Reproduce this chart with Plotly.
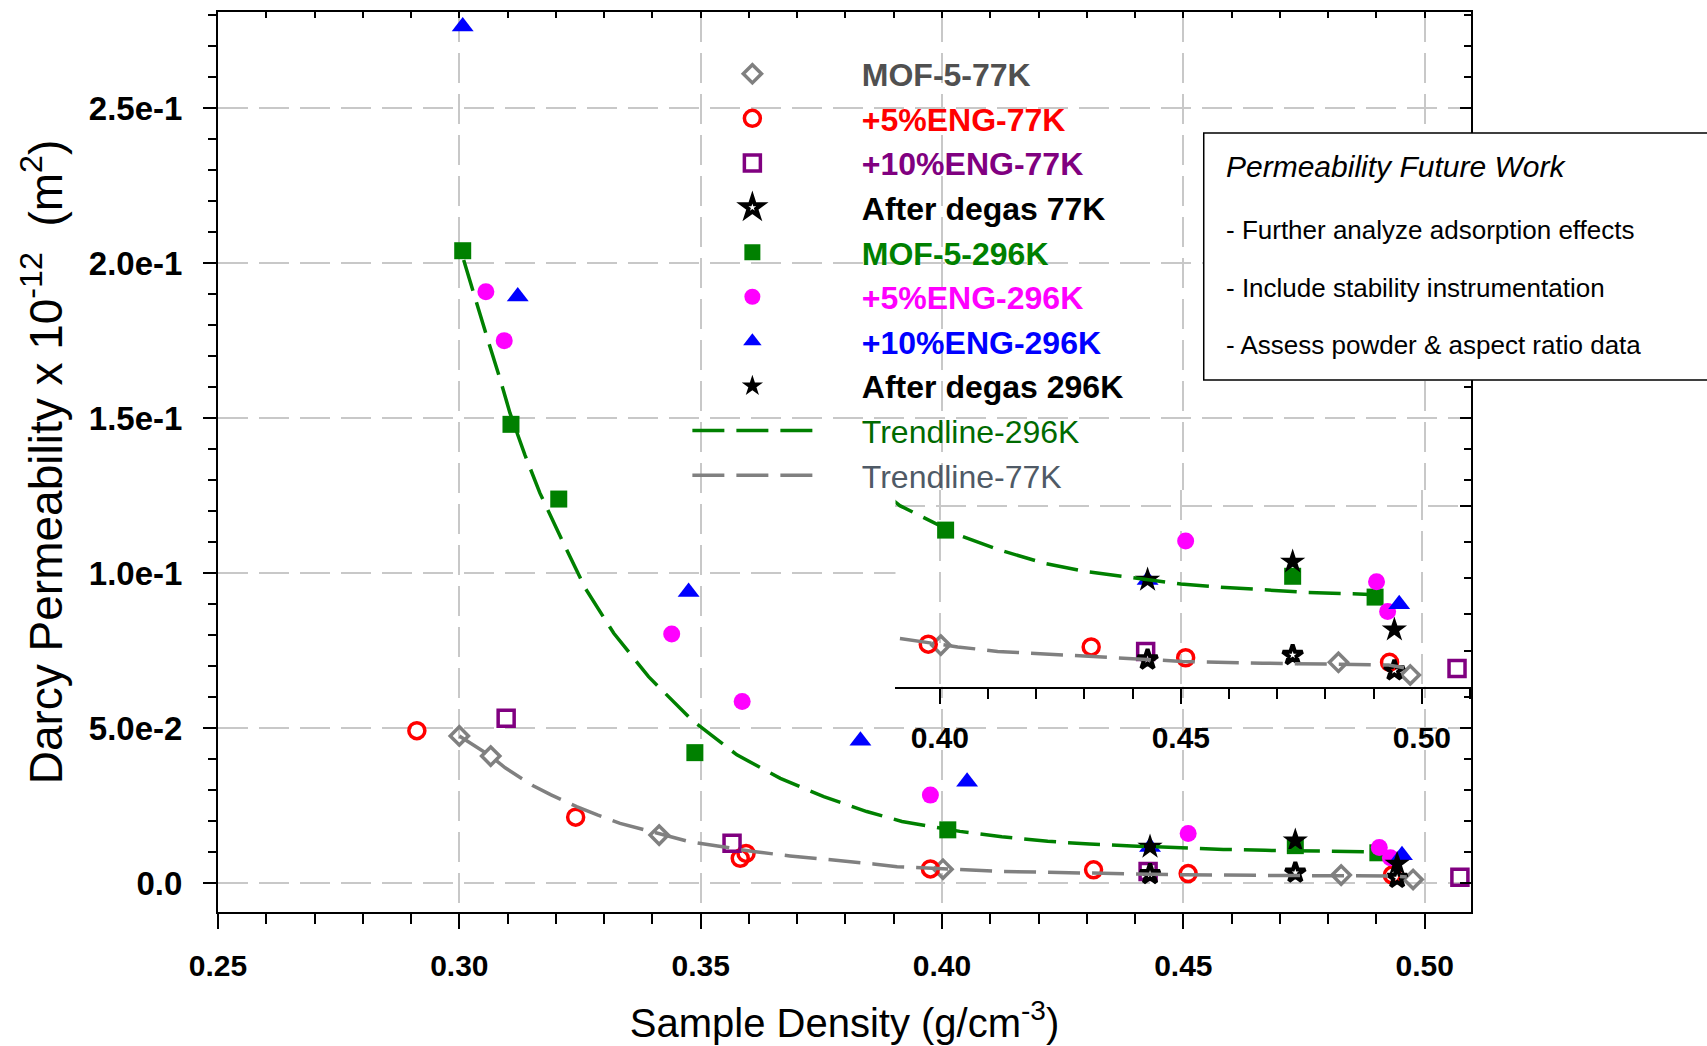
import plotly.graph_objects as go

# ---------------- data ----------------
mof5_77_x = [0.3000, 0.3065, 0.3414, 0.4002, 0.4827, 0.4976]
mof5_77_y = [0.0476, 0.0411, 0.0156, 0.0046, 0.0027, 0.0013]

eng5_77_x = [0.2912, 0.3241, 0.3582, 0.3594, 0.3976, 0.4314, 0.4510, 0.4933]
eng5_77_y = [0.0493, 0.0214, 0.0081, 0.0097, 0.0047, 0.0044, 0.0032, 0.0027]

eng10_77_x = [0.3097, 0.3565, 0.4427, 0.5073]
eng10_77_y = [0.0533, 0.0130, 0.0039, 0.0020]

degas_77_x = [0.4431, 0.4732, 0.4943]
degas_77_y = [0.0030, 0.0035, 0.0018]

mof5_296_x = [0.3007, 0.3107, 0.3206, 0.3488, 0.4012, 0.4732, 0.4903]
mof5_296_y = [0.2041, 0.1481, 0.1240, 0.0422, 0.0173, 0.0122, 0.0099]

eng5_296_x = [0.3055, 0.3093, 0.3440, 0.3586, 0.3976, 0.4510, 0.4906, 0.4929]
eng5_296_y = [0.1909, 0.1751, 0.0805, 0.0587, 0.0285, 0.0161, 0.0116, 0.0083]

eng10_296_x = [0.3007, 0.3121, 0.3475, 0.3831, 0.4052, 0.4431, 0.4953]
eng10_296_y = [0.2764, 0.1893, 0.0940, 0.0460, 0.0328, 0.0118, 0.0091]

degas_296_x = [0.4431, 0.4732, 0.4943]
degas_296_y = [0.0118, 0.0138, 0.0063]

trend296_x = [0.3009, 0.3029, 0.3057, 0.3085, 0.3105, 0.3136, 0.3167, 0.3216,
              0.3261, 0.3320, 0.3392, 0.3482, 0.3575, 0.3665, 0.3755, 0.3844,
              0.3917, 0.4037, 0.4124, 0.4219, 0.4306, 0.4393, 0.4500, 0.4583,
              0.4670, 0.4765, 0.4892]
trend296_y = [0.2011, 0.1904, 0.1764, 0.1624, 0.1517, 0.1382, 0.1259, 0.1097,
              0.0952, 0.0807, 0.0667, 0.0527, 0.0415, 0.0339, 0.0280, 0.0232,
              0.0200, 0.0168, 0.0151, 0.0136, 0.0127, 0.0121, 0.01135, 0.0110,
              0.0107, 0.0104, 0.0102]

trend77_x = [0.3000, 0.3065, 0.3095, 0.3153, 0.3190, 0.3243, 0.3286, 0.3333,
             0.3476, 0.3609, 0.3685, 0.3775, 0.3858, 0.3907, 0.4037, 0.4120,
             0.4219, 0.4322, 0.4503, 0.4670, 0.4828, 0.4931, 0.4963]
trend77_y = [0.0476, 0.0411, 0.0373, 0.0315, 0.0286, 0.0248, 0.0221, 0.0194,
             0.0135, 0.0103, 0.0089, 0.0076, 0.0063, 0.0054, 0.0044, 0.0039,
             0.0036, 0.0033, 0.0028, 0.0026, 0.0025, 0.0024, 0.0021]

y_tickvals = [0.0, 0.05, 0.10, 0.15, 0.20, 0.25]
y_ticktext = ["0.0", "5.0e-2", "1.0e-1", "1.5e-1", "2.0e-1", "2.5e-1"]

box_title = "Permeability Future Work"
box_lines = ["- Further analyze adsorption effects",
             "- Include stability instrumentation",
             "- Assess powder & aspect ratio data"]

# ---------------- styling ----------------
FONT = "Liberation Sans, Arial, sans-serif"
X_RANGE = [0.25, 0.5096]
Y_RANGE = [-0.0092, 0.2811]
IX_RANGE = [0.3908, 0.5102]
IY_RANGE = [0.0, 0.02173]
GRID = "#c8c8c8"
GDASH = "30px,11px"
TDASH = "32px,12px"
PAD = "\u00a0" * 5

series = [
    dict(name="MOF-5-77K", x=mof5_77_x, y=mof5_77_y, sym="diamond-open", size=14,
         color="#808080", lw=3.5, tcol="#505050", bold=True),
    dict(name="+5%ENG-77K", x=eng5_77_x, y=eng5_77_y, sym="circle-open", size=16,
         color="#ff0000", lw=3.5, tcol="#ff0000", bold=True),
    dict(name="+10%ENG-77K", x=eng10_77_x, y=eng10_77_y, sym="square-open", size=16,
         color="#800080", lw=3.5, tcol="#800080", bold=True),
    dict(name="After degas 77K", x=degas_77_x, y=degas_77_y, sym="star-open", size=15,
         color="#000000", lw=4, tcol="#000000", bold=True),
    dict(name="MOF-5-296K", x=mof5_296_x, y=mof5_296_y, sym="square", size=17,
         color="#008000", lw=0, tcol="#008000", bold=True),
    dict(name="+5%ENG-296K", x=eng5_296_x, y=eng5_296_y, sym="circle", size=17,
         color="#ff00ff", lw=0, tcol="#ff00ff", bold=True),
    dict(name="+10%ENG-296K", x=eng10_296_x, y=eng10_296_y, sym="triangle-up", size=19,
         color="#0000ff", lw=0, tcol="#0000ff", bold=True),
    dict(name="After degas 296K", x=degas_296_x, y=degas_296_y, sym="star", size=19,
         color="#000000", lw=0, tcol="#000000", bold=True),
]
trends = [
    dict(name="Trendline-296K", x=trend296_x, y=trend296_y, color="#008000", tcol="#006a00"),
    dict(name="Trendline-77K", x=trend77_x, y=trend77_y, color="#808080", tcol="#4f5a66"),
]


def label(name, col, bold):
    t = f"<b>{name}</b>" if bold else name
    return f'{PAD}<span style="color:{col}">{t}</span>'


fig = go.Figure()


def add_all(xa, ya, inset):
    for s in series:
        xs, ys = s["x"], s["y"]
        if inset:
            pts = [(a, b) for a, b in zip(xs, ys)
                   if IX_RANGE[0] <= a <= IX_RANGE[1] and IY_RANGE[0] <= b <= IY_RANGE[1]]
            xs = [p[0] for p in pts]
            ys = [p[1] for p in pts]
        fig.add_trace(go.Scatter(
            x=xs, y=ys, mode="markers", name=label(s["name"], s["tcol"], s["bold"]),
            xaxis=xa, yaxis=ya, showlegend=not inset, cliponaxis=not inset,
            marker=dict(symbol=s["sym"], size=s["size"], color=s["color"],
                        line=dict(width=s["lw"], color=s["color"])),
        ))
    for t in trends:
        fig.add_trace(go.Scatter(
            x=t["x"], y=t["y"], mode="lines", name=label(t["name"], t["tcol"], False),
            xaxis=xa, yaxis=ya, showlegend=not inset,
            line=dict(color=t["color"], width=3.5, dash=TDASH),
        ))


add_all("x", "y", False)
add_all("x2", "y2", True)
# carrier for the mirrored top / right tick axes
fig.add_trace(go.Scatter(x=[], y=[], xaxis="x3", yaxis="y3", showlegend=False))

tickfont_x = dict(family=FONT, size=30, color="black", weight="bold")
tickfont_y = dict(family=FONT, size=33, color="black", weight="bold")

fig.update_layout(
    template="none",
    width=1707, height=1046,
    margin=dict(l=218, r=236, t=12, b=134),
    paper_bgcolor="white", plot_bgcolor="white",
    font=dict(family=FONT, color="black"),
    showlegend=True,
    legend=dict(x=0.3746, y=0.9617, xanchor="left", yanchor="top",
                itemwidth=120, font=dict(family=FONT, size=32),
                bgcolor="rgba(0,0,0,0)", borderwidth=0, tracegroupgap=0),
    xaxis=dict(
        domain=[0, 1], anchor="y", range=X_RANGE, tickmode="linear", tick0=0.25, dtick=0.05,
        tickformat=".2f", ticks="outside", ticklen=15, tickwidth=2, tickcolor="black",
        minor=dict(tickmode="linear", tick0=0.25, dtick=0.01, ticks="outside",
                   ticklen=10, tickwidth=2, tickcolor="black"),
        showline=True, linewidth=2, linecolor="black", zeroline=False,
        showgrid=True, gridcolor=GRID, gridwidth=2, griddash=GDASH,
        tickfont=tickfont_x, ticklabelstandoff=11,
        title=dict(text="Sample Density (g/cm<sup>-3</sup>)",
                   font=dict(family=FONT, size=40), standoff=28),
    ),
    yaxis=dict(
        domain=[0, 1], anchor="x", range=Y_RANGE, tickmode="array",
        tickvals=y_tickvals, ticktext=y_ticktext,
        ticks="outside", ticklen=13, tickwidth=2, tickcolor="black",
        minor=dict(tickmode="linear", tick0=0, dtick=0.01, ticks="outside",
                   ticklen=8, tickwidth=2, tickcolor="black"),
        showline=True, linewidth=2, linecolor="black", zeroline=False,
        showgrid=True, gridcolor=GRID, gridwidth=2, griddash=GDASH,
        tickfont=tickfont_y, ticklabelstandoff=14,
        title=dict(text="Darcy Permeability x 10<sup>-12</sup>  (m<sup>2</sup>)",
                   font=dict(family=FONT, size=46), standoff=12),
    ),
    xaxis3=dict(
        overlaying="x", anchor="y3", side="top", range=X_RANGE, tickmode="linear",
        tick0=0.25, dtick=0.01, ticks="inside", ticklen=6, tickwidth=2, tickcolor="black",
        showticklabels=False, showgrid=False, zeroline=False,
        showline=True, linewidth=2, linecolor="black",
    ),
    yaxis3=dict(
        overlaying="y", anchor="x3", side="right", range=Y_RANGE, tickmode="array",
        tickvals=y_tickvals, ticks="inside", ticklen=11, tickwidth=2, tickcolor="black",
        minor=dict(tickmode="linear", tick0=0, dtick=0.01, ticks="inside",
                   ticklen=7, tickwidth=2, tickcolor="black"),
        showticklabels=False, showgrid=False, zeroline=False,
        showline=True, linewidth=2, linecolor="black",
    ),
    xaxis2=dict(
        domain=[0.5407, 1.0], anchor="y2", range=IX_RANGE, tickmode="linear",
        tick0=0.40, dtick=0.05, tickformat=".2f", ticks="outside", ticklen=15,
        tickwidth=2, tickcolor="black",
        minor=dict(tickmode="linear", tick0=0.40, dtick=0.01, ticks="outside",
                   ticklen=10, tickwidth=2, tickcolor="black"),
        showline=True, linewidth=2, linecolor="black", zeroline=False,
        showgrid=True, gridcolor=GRID, gridwidth=2, griddash=GDASH,
        tickfont=tickfont_x, ticklabelstandoff=8,
    ),
    yaxis2=dict(
        domain=[0.2503, 0.4689], anchor="x2", side="right", range=IY_RANGE,
        tickmode="linear", tick0=0, dtick=0.02, ticks="inside", ticklen=11,
        tickwidth=2, tickcolor="black",
        minor=dict(tickmode="linear", tick0=0, dtick=0.004, ticks="inside",
                   ticklen=7, tickwidth=2, tickcolor="black"),
        showticklabels=False, zeroline=False,
        showline=True, linewidth=2, linecolor="black",
        showgrid=True, gridcolor=GRID, gridwidth=2, griddash=GDASH,
    ),
)

# text box
fig.add_shape(type="rect", xref="paper", yref="paper", x0=0.7867, x1=1.3,
              y0=0.5911, y1=0.8656, line=dict(color="black", width=1.5),
              fillcolor="white", layer="above")
fig.add_annotation(xref="paper", yref="paper", x=0.8027, y=0.8278, xanchor="left",
                   yanchor="middle", showarrow=False, text=f"<i>{box_title}</i>",
                   font=dict(family=FONT, size=30, color="black"))
for line_txt, ypos in zip(box_lines, [0.7578, 0.6933, 0.6300]):
    fig.add_annotation(xref="paper", yref="paper", x=0.8027, y=ypos, xanchor="left",
                       yanchor="middle", showarrow=False, text=line_txt,
                       font=dict(family=FONT, size=26, color="black"))

fig.write_html("out.html", config={"displayModeBar": False},
               post_script="document.body.style.margin='0px';document.body.style.overflow='hidden';")
